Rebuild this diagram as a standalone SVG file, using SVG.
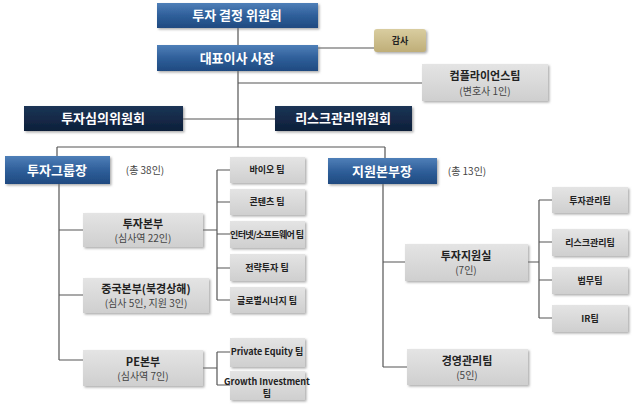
<svg xmlns="http://www.w3.org/2000/svg" width="635" height="405" viewBox="0 0 635 405">
<defs>
<linearGradient id="blue" x1="0" y1="0" x2="0" y2="1"><stop offset="0" stop-color="#4f7fb8"/><stop offset="0.5" stop-color="#2f5f9a"/><stop offset="1" stop-color="#1f4a80"/></linearGradient>
<linearGradient id="navy" x1="0" y1="0" x2="0" y2="1"><stop offset="0" stop-color="#1c3556"/><stop offset="1" stop-color="#0d1f3a"/></linearGradient>
<linearGradient id="gray" x1="0" y1="0" x2="0" y2="1"><stop offset="0" stop-color="#e4e4e4"/><stop offset="1" stop-color="#cfcfcf"/></linearGradient>
<linearGradient id="tan" x1="0" y1="0" x2="0" y2="1"><stop offset="0" stop-color="#d9cda0"/><stop offset="1" stop-color="#bfae78"/></linearGradient>
<filter id="sh" x="-10%" y="-20%" width="130%" height="160%"><feDropShadow dx="1.5" dy="1.5" stdDeviation="1" flood-color="#777" flood-opacity="0.6"/></filter>
</defs>
<style>
text{font-family:"Noto Sans CJK KR","Noto Sans",sans-serif;text-anchor:middle}
.b{fill:url(#blue);filter:url(#sh)}
.n{fill:url(#navy);filter:url(#sh)}
.g{fill:url(#gray);filter:url(#sh)}
.t{fill:url(#tan);filter:url(#sh)}
.wt{fill:#fff;font-weight:bold;font-size:13px}
.bt{fill:#222;font-weight:bold;font-size:11px}
.st{fill:#444;font-size:10px}
.sm{fill:#222;font-weight:bold;font-size:9px}
.c{stroke:#555;stroke-width:1.2;fill:none}
</style>
<g id="connectors" class="c">
<path d="M238 27V147M238 48H374M238 83H422M183 119H275M57 147H385M57 147V156M385 147V158"/>
<path d="M59 184V360M59 230H83M59 295H83M59 360H83"/>
<path d="M203 230H217M217 170V300M217 170H230M217 202H230M217 234H230M217 268H230M217 300H230"/>
<path d="M203 368H217M217 352V385M217 352H230M217 385H230"/>
<path d="M383 184V367M383 262H405M383 367H407"/>
<path d="M528 262H539M539 200V318M539 200H552M539 242H552M539 280H552M539 318H552"/>
</g>
<g id="n1"><rect class="b" x="157" y="3" width="161" height="25"/><text class="wt" x="237" y="20">투자 결정 위원회</text></g>
<g id="n2"><rect class="t" x="374" y="29" width="52" height="23" rx="3"/><text class="sm" x="400" y="44" fill="#222">감사</text></g>
<g id="n3"><rect class="b" x="157" y="45" width="161" height="26"/><text class="wt" x="237" y="63">대표이사 사장</text></g>
<g id="n4"><rect class="g" x="422" y="64" width="126" height="37"/><text class="bt" x="485" y="80">컴플라이언스팀</text><text class="st" x="485" y="95">(변호사 1인)</text></g>
<g id="n5"><rect class="n" x="24" y="106" width="159" height="25"/><text class="wt" x="103" y="123">투자심의위원회</text></g>
<g id="n6"><rect class="n" x="275" y="106" width="137" height="25"/><text class="wt" x="343" y="123">리스크관리위원회</text></g>
<g id="n7"><rect class="b" x="5" y="156" width="105" height="28"/><text class="wt" x="57" y="175">투자그룹장</text><text class="st" x="145" y="174">(총 38인)</text></g>
<g id="n8"><rect class="b" x="328" y="158" width="109" height="26"/><text class="wt" x="382" y="176">지원본부장</text><text class="st" x="467" y="175">(총 13인)</text></g>
<g id="n9"><rect class="g" x="83" y="213" width="120" height="34"/><text class="bt" x="143" y="228">투자본부</text><text class="st" x="143" y="242">(심사역 22인)</text></g>
<g id="n10"><rect class="g" x="83" y="278" width="126" height="35"/><text class="bt" x="146" y="293">중국본부(북경상해)</text><text class="st" x="146" y="307">(심사 5인, 지원 3인)</text></g>
<g id="n11"><rect class="g" x="83" y="350" width="120" height="36"/><text class="bt" x="143" y="366">PE본부</text><text class="st" x="143" y="380">(심사역 7인)</text></g>
<g id="n12"><rect class="g" x="230" y="157" width="75" height="26"/><text class="sm" x="267" y="173">바이오 팀</text></g>
<g id="n13"><rect class="g" x="230" y="189" width="75" height="26"/><text class="sm" x="267" y="205">콘텐츠 팀</text></g>
<g id="n14"><rect class="g" x="230" y="221" width="75" height="27"/><text class="sm" x="267" y="238" textLength="74">인터넷/소프트웨어 팀</text></g>
<g id="n15"><rect class="g" x="230" y="254" width="75" height="27"/><text class="sm" x="267" y="271">전략투자 팀</text></g>
<g id="n16"><rect class="g" x="230" y="287" width="75" height="26"/><text class="sm" x="267" y="304">글로벌시너지 팀</text></g>
<g id="n17"><rect class="g" x="230" y="338" width="75" height="29"/><text class="sm" x="267" y="355" font-size="8">Private Equity 팀</text></g>
<g id="n18"><rect class="g" x="230" y="371" width="75" height="29"/><text class="sm" x="267" y="385" font-size="8">Growth Investment</text><text class="sm" x="267" y="397" font-size="8">팀</text></g>
<g id="n19"><rect class="g" x="405" y="244" width="123" height="37"/><text class="bt" x="466" y="260">투자지원실</text><text class="st" x="466" y="274">(7인)</text></g>
<g id="n20"><rect class="g" x="407" y="349" width="121" height="36"/><text class="bt" x="467" y="365">경영관리팀</text><text class="st" x="467" y="379">(5인)</text></g>
<g id="n21"><rect class="g" x="552" y="187" width="76" height="26"/><text class="sm" x="590" y="204">투자관리팀</text></g>
<g id="n22"><rect class="g" x="552" y="229" width="76" height="27"/><text class="sm" x="590" y="246">리스크관리팀</text></g>
<g id="n23"><rect class="g" x="552" y="267" width="76" height="27"/><text class="sm" x="590" y="284">법무팀</text></g>
<g id="n24"><rect class="g" x="552" y="305" width="76" height="27"/><text class="sm" x="590" y="322">IR팀</text></g>
</svg>
